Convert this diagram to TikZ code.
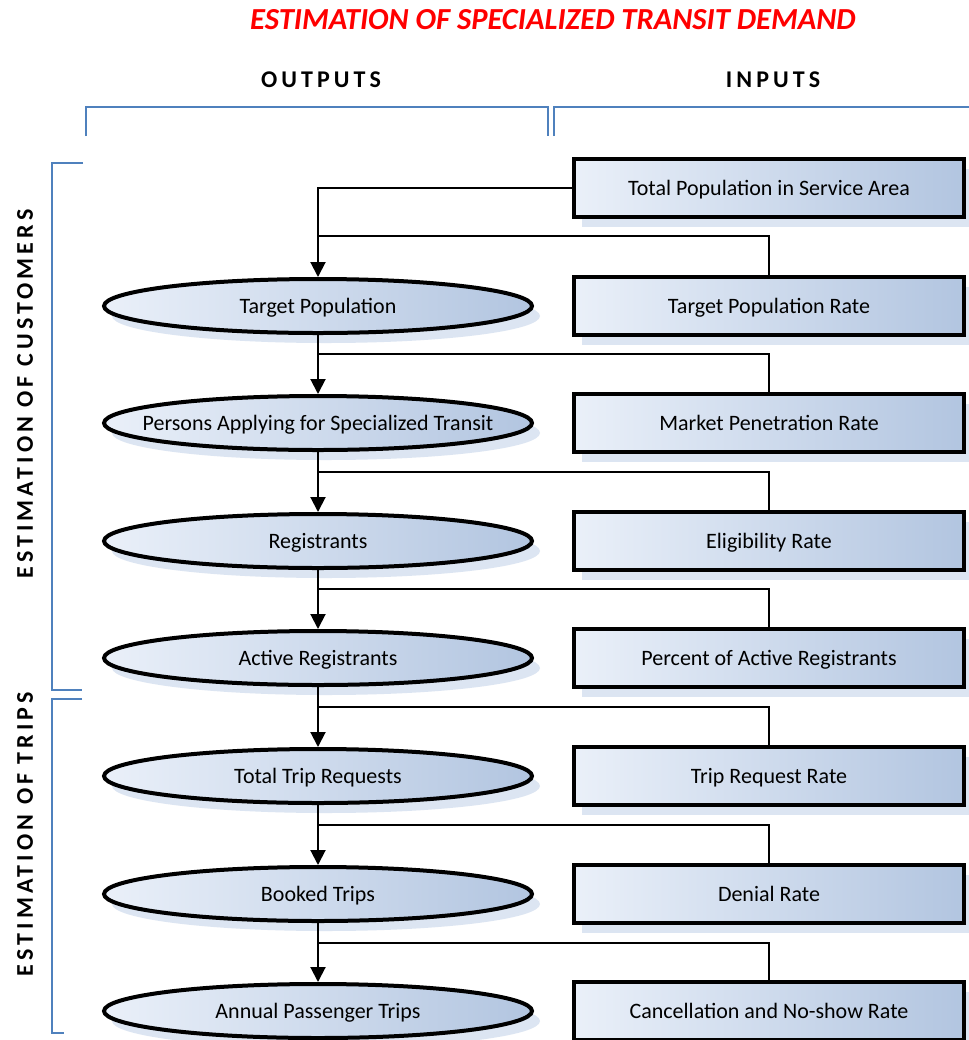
\documentclass[tikz,border=0pt]{standalone}
\usepackage{fontspec}
\setmainfont{Carlito}
\newfontfamily\spacedfont[LetterSpace=17]{Carlito}
\usetikzlibrary{shapes.geometric,shadows,arrows.meta}
\definecolor{shadowblue}{HTML}{DCE5F2}
\definecolor{lightfill}{HTML}{EAF0F9}
\definecolor{darkfill}{HTML}{B2C5E0}
\definecolor{brkblue}{HTML}{4F81BD}
\definecolor{titlered}{HTML}{FF0000}
\newcommand{\zb}[1]{\makebox[0pt]{#1}}
\tikzset{
  outnode/.style={ellipse, draw=black, line width=2pt, minimum width=214pt, minimum height=27pt,
    left color=lightfill, right color=darkfill, font=\fontsize{11}{12}\selectfont,
    text height=7.5pt, text depth=0pt,
    drop shadow={shadow xshift=4pt, shadow yshift=-5pt, fill=shadowblue, opacity=1}, inner sep=0pt},
  innode/.style={rectangle, draw=black, line width=2pt, minimum width=195pt, minimum height=29pt,
    left color=lightfill, right color=darkfill, font=\fontsize{11}{12}\selectfont,
    text height=7.5pt, text depth=0pt,
    drop shadow={shadow xshift=4pt, shadow yshift=-5pt, fill=shadowblue, opacity=1}, inner sep=0pt},
  conn/.style={draw=black, line width=1pt},
  arr/.style={conn, -{Triangle[width=7.5pt,length=7.5pt]}},
  brk/.style={draw=brkblue, line width=1.2pt},
  hdr/.style={font=\spacedfont\bfseries\fontsize{12}{14}\selectfont},
}
\begin{document}
\begin{tikzpicture}[x=0.5pt,y=-0.5pt]
\useasboundingbox[fill=white] (0,0) rectangle (969,1040);
% title and headers
\node[font=\bfseries\itshape\fontsize{15.3}{17}\selectfont, text=titlered] (title) at (553,20) {ESTIMATION OF SPECIALIZED TRANSIT DEMAND};
\node[hdr] (outputs) at (321,80) {OUTPUTS};
\node[hdr] (inputs) at (773,80) {INPUTS};
\node[hdr, rotate=90] (cust) at (25,394) {ESTIMATION OF CUSTOMERS};
\node[hdr, rotate=90] (trips) at (25,834) {ESTIMATION OF TRIPS};
% brackets
\draw[brk] (86,136) -- (86,107) -- (548,107) -- (548,136);
\draw[brk] (554,136) -- (554,107) -- (969,107);
\draw[brk] (83,163) -- (52,163) -- (52,690) -- (82,690);
\draw[brk] (82,699) -- (52,699) -- (52,1033) -- (64,1033);
% input boxes
\node[innode] (in0) at (769,188) {Total Population in Service Area};
\node[innode] (in1) at (769,306) {Target Population Rate};
\node[innode] (in2) at (769,423) {Market Penetration Rate};
\node[innode] (in3) at (769,541) {Eligibility Rate};
\node[innode] (in4) at (769,658) {Percent of Active Registrants};
\node[innode] (in5) at (769,776) {Trip Request Rate};
\node[innode] (in6) at (769,894) {Denial Rate};
\node[innode] (in7) at (769,1011) {Cancellation and No-show Rate};
% output ellipses
\node[outnode] (o1) at (318,306) {\zb{Target Population}};
\node[outnode] (o2) at (318,423) {\zb{Persons Applying for Specialized Transit}};
\node[outnode] (o3) at (318,541) {\zb{Registrants}};
\node[outnode] (o4) at (318,658) {\zb{Active Registrants}};
\node[outnode] (o5) at (318,776) {\zb{Total Trip Requests}};
\node[outnode] (o6) at (318,894) {\zb{Booked Trips}};
\node[outnode] (o7) at (318,1011) {\zb{Annual Passenger Trips}};
% junctions
\coordinate (j1) at (318,236);
\coordinate (j2) at (318,354);
\coordinate (j3) at (318,472);
\coordinate (j4) at (318,589);
\coordinate (j5) at (318,707);
\coordinate (j6) at (318,825);
\coordinate (j7) at (318,943);
% connectors
\draw[arr] (in0.west) -| (o1.north);
\draw[arr] (o1.south) -- (o2.north);
\draw[arr] (o2.south) -- (o3.north);
\draw[arr] (o3.south) -- (o4.north);
\draw[arr] (o4.south) -- (o5.north);
\draw[arr] (o5.south) -- (o6.north);
\draw[arr] (o6.south) -- (o7.north);
\draw[conn] (in1.north) |- (j1);
\draw[conn] (in2.north) |- (j2);
\draw[conn] (in3.north) |- (j3);
\draw[conn] (in4.north) |- (j4);
\draw[conn] (in5.north) |- (j5);
\draw[conn] (in6.north) |- (j6);
\draw[conn] (in7.north) |- (j7);
\end{tikzpicture}
\end{document}
